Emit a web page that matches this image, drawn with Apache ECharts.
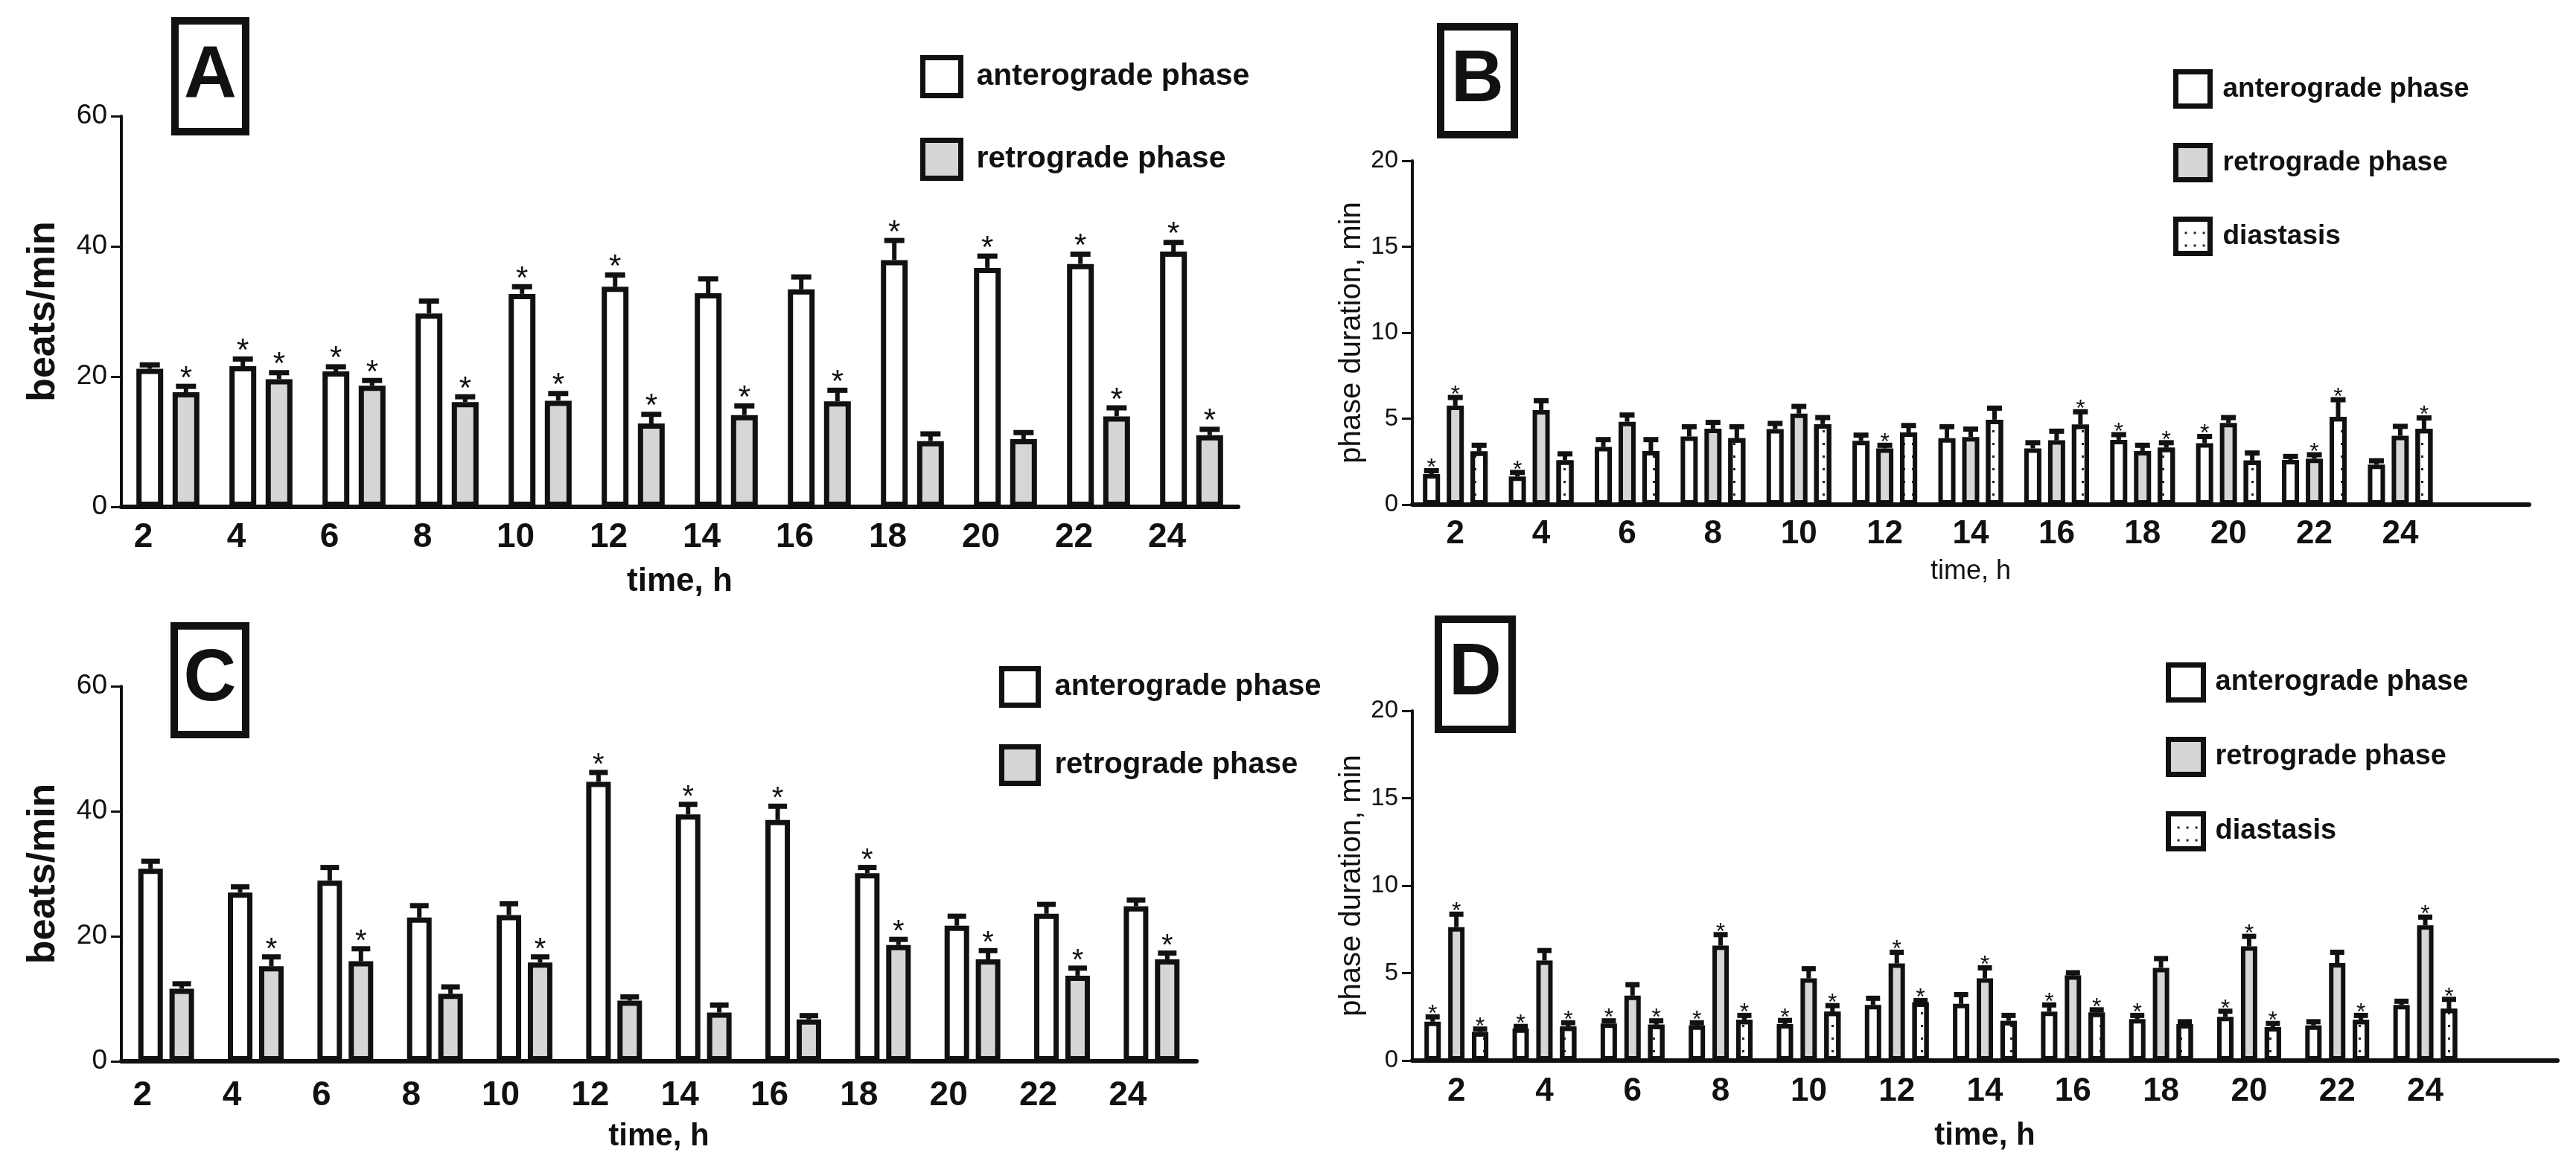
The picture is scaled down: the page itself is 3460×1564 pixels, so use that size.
<!DOCTYPE html>
<html>
<head>
<meta charset="utf-8">
<script src="https://cdn.jsdelivr.net/npm/echarts@6/dist/echarts.min.js"></script>
<style>
html, body { margin: 0; padding: 0; background: #fff; }
#chart { width: 3460px; height: 1564px; }
</style>
</head>
<body>
<div id="chart"></div>
<script>
var hours = ['2', '4', '6', '8', '10', '12', '14', '16', '18', '20', '22', '24'];
var seriesNames = ['anterograde phase', 'retrograde phase', 'diastasis'];

// panel A - beats/min
var antA = [21.2, 21.6, 20.8, 29.7, 32.7, 33.8, 32.8, 33.4, 37.9, 36.7, 37.3, 39.2];
var antAErr = [0.6, 1.1, 0.7, 1.9, 1.1, 1.8, 2.2, 1.9, 3.0, 1.8, 1.5, 1.4];
var antAStar = [0, 1, 1, 0, 1, 1, 0, 0, 1, 1, 1, 1];
var retA = [17.6, 19.6, 18.6, 16.1, 16.3, 12.8, 14.1, 16.2, 10.1, 10.4, 13.9, 11.0];
var retAErr = [0.9, 1.0, 0.8, 0.8, 1.1, 1.4, 1.4, 1.7, 1.1, 1.0, 1.3, 0.9];
var retAStar = [1, 1, 1, 1, 1, 1, 1, 1, 0, 0, 1, 1];

// panel B - phase duration, min
var antB = [1.77, 1.63, 3.35, 3.96, 4.39, 3.71, 3.86, 3.27, 3.77, 3.57, 2.6, 2.33];
var antBErr = [0.2, 0.24, 0.43, 0.57, 0.33, 0.33, 0.67, 0.33, 0.3, 0.39, 0.2, 0.22];
var antBStar = [1, 1, 0, 0, 0, 0, 0, 0, 1, 1, 0, 0];
var retB = [5.76, 5.5, 4.82, 4.42, 5.29, 3.27, 3.93, 3.74, 3.12, 4.75, 2.67, 4.0];
var retBErr = [0.47, 0.54, 0.39, 0.36, 0.42, 0.18, 0.46, 0.53, 0.33, 0.31, 0.23, 0.55];
var retBStar = [1, 0, 0, 0, 0, 1, 0, 0, 0, 0, 1, 0];
var diaB = [3.09, 2.58, 3.12, 3.86, 4.68, 4.2, 4.94, 4.65, 3.31, 2.56, 5.1, 4.4];
var diaBErr = [0.36, 0.37, 0.66, 0.67, 0.38, 0.4, 0.67, 0.75, 0.29, 0.44, 1.0, 0.64];
var diaBStar = [0, 0, 0, 0, 0, 0, 0, 1, 1, 0, 1, 1];

// panel C - beats/min
var antC = [30.8, 27.0, 28.9, 23.0, 23.4, 44.7, 39.5, 38.6, 30.1, 21.7, 23.6, 24.8];
var antCErr = [1.2, 0.9, 2.1, 1.9, 1.8, 1.5, 1.6, 2.2, 0.9, 1.5, 1.5, 1.0];
var antCStar = [0, 0, 0, 0, 0, 1, 1, 1, 1, 0, 0, 0];
var retC = [11.6, 15.2, 16.0, 10.8, 15.8, 9.7, 7.8, 6.7, 18.6, 16.3, 13.7, 16.3];
var retCErr = [0.8, 1.5, 2.0, 1.1, 0.9, 0.6, 1.2, 0.6, 0.9, 1.4, 1.2, 1.0];
var retCStar = [0, 1, 1, 0, 1, 0, 0, 0, 1, 1, 1, 1];

// panel D - phase duration, min
var antD = [2.22, 1.84, 2.12, 2.01, 2.08, 3.18, 3.24, 2.8, 2.37, 2.5, 2.01, 3.18];
var antDErr = [0.28, 0.11, 0.15, 0.15, 0.21, 0.38, 0.53, 0.38, 0.21, 0.32, 0.21, 0.21];
var antDStar = [1, 1, 1, 1, 1, 0, 0, 1, 1, 1, 0, 0];
var retD = [7.63, 5.72, 3.71, 6.57, 4.7, 5.55, 4.7, 4.87, 5.3, 6.53, 5.57, 7.73];
var retDErr = [0.74, 0.57, 0.63, 0.63, 0.55, 0.64, 0.6, 0.15, 0.53, 0.57, 0.62, 0.47];
var retDStar = [1, 0, 0, 1, 0, 1, 1, 0, 0, 1, 0, 1];
var diaD = [1.63, 1.95, 2.05, 2.33, 2.8, 3.33, 2.27, 2.75, 2.08, 1.91, 2.33, 2.97];
var diaDErr = [0.17, 0.21, 0.22, 0.25, 0.34, 0.1, 0.31, 0.15, 0.14, 0.21, 0.25, 0.53];
var diaDStar = [1, 1, 1, 1, 1, 1, 0, 1, 0, 1, 1, 1];

var INK = '#111';
var GRAY = '#d6d6d6';
var FONT = "'Liberation Sans', Arial, sans-serif";
var dots = {
    symbol: 'rect', symbolSize: 1, color: '#222', backgroundColor: null,
    dashArrayX: [3, 9], dashArrayY: [3, 14], rotation: 0
};

// per-panel geometry of the bar groups
var panels = [
    {barW: 36, gap: 35, border: 7, cap: 27, star: 42, starDy: 11},
    {barW: 23, gap: 39, border: 6, cap: 20, star: 32, starDy: 13},
    {barW: 33, gap: 27, border: 7, cap: 25, star: 40, starDy: 11},
    {barW: 22, gap: 45, border: 6, cap: 19, star: 32, starDy: 13}
];

function barSeries(gi, idx, values, fill, decal) {
    var p = panels[gi];
    var s = {
        name: seriesNames[idx], type: 'bar', xAxisIndex: gi, yAxisIndex: gi,
        data: values, barWidth: p.barW, barGap: p.gap + '%', silent: true, z: 2,
        itemStyle: {color: fill, borderColor: INK, borderWidth: p.border}
    };
    if (decal) s.itemStyle.decal = decal;
    return s;
}

function errSeries(gi, idx, n, values, errs, stars) {
    var p = panels[gi];
    return {
        type: 'custom', xAxisIndex: gi, yAxisIndex: gi, silent: true, z: 5,
        data: values.map(function (v, i) { return [i, v, errs[i], stars[i]]; }),
        encode: {x: 0, y: 1},
        renderItem: function (params, api) {
            var ci = api.value(0), m = api.value(1), e = api.value(2), s = api.value(3);
            var base = api.coord([ci, m]);
            var top = api.coord([ci, m + e]);
            var x = base[0] + (idx - (n - 1) / 2) * p.barW * (1 + p.gap / 100);
            var kids = [
                {type: 'line', shape: {x1: x, y1: base[1], x2: x, y2: top[1]}, style: {stroke: INK, lineWidth: 6}},
                {type: 'line', shape: {x1: x - p.cap / 2, y1: top[1], x2: x + p.cap / 2, y2: top[1]}, style: {stroke: INK, lineWidth: 7}}
            ];
            if (s) {
                kids.push({type: 'text', x: x, y: top[1] + p.starDy, style: {
                    text: '*', fill: INK, fontSize: p.star, fontFamily: FONT,
                    align: 'center', verticalAlign: 'bottom', textAlign: 'center', textVerticalAlign: 'bottom'
                }});
            }
            return {type: 'group', children: kids};
        }
    };
}

function xAxisOf(gi, cats, lblSize, lblPad, margin, nameSize, nameWeight, nameGap) {
    return {
        type: 'category', gridIndex: gi, data: cats,
        axisLine: {lineStyle: {color: INK, width: 6}},
        axisTick: {show: false},
        axisLabel: {color: INK, fontSize: lblSize, fontWeight: 'bold', fontFamily: FONT, margin: margin, padding: [0, lblPad, 0, 0], interval: 0},
        name: 'time, h', nameLocation: 'middle', nameGap: nameGap,
        nameTextStyle: {color: INK, fontSize: nameSize, fontWeight: nameWeight, fontFamily: FONT}
    };
}

function yAxisOf(gi, max, step, name, lblSize, nameSize, nameWeight, nameGap) {
    return {
        type: 'value', gridIndex: gi, min: 0, max: max, interval: step,
        axisLine: {show: true, lineStyle: {color: INK, width: 4}},
        axisTick: {show: true, length: 14, lineStyle: {color: INK, width: 3}},
        axisLabel: {color: INK, fontSize: lblSize, fontFamily: FONT, margin: 19},
        splitLine: {show: false},
        name: name, nameLocation: 'middle', nameGap: nameGap,
        nameTextStyle: {color: INK, fontSize: nameSize, fontWeight: nameWeight, fontFamily: FONT}
    };
}

function legendOf(left, top, size, gap, fontSize, textPad, names) {
    return {
        orient: 'vertical', left: left, top: top, padding: 0, icon: 'rect',
        itemWidth: size, itemHeight: size, itemGap: gap, selectedMode: false,
        itemStyle: {borderColor: INK, borderWidth: 7},
        textStyle: {color: INK, fontSize: fontSize, fontWeight: 'bold', fontFamily: FONT, padding: [0, 0, 0, textPad]},
        data: names
    };
}

function panelLabel(x, y, w, h, letter) {
    return [
        {type: 'rect', shape: {x: x, y: y, width: w, height: h}, style: {fill: '#fff', stroke: INK, lineWidth: 10}, z: 10},
        {type: 'text', x: x + w / 2, y: y + h / 2, z: 11, style: {
            text: letter, fill: INK, fontSize: 98, fontWeight: 'bold', fontFamily: FONT,
            align: 'center', verticalAlign: 'middle', textAlign: 'center', textVerticalAlign: 'middle'
        }}
    ];
}

var wideHours = hours.concat(['']);

var option = {
    animation: false,
    backgroundColor: '#fff',
    grid: [
        {left: 163, top: 156, width: 1500, height: 525, containLabel: false, outerBoundsMode: 'none'},
        {left: 1897, top: 216, width: 1500, height: 462, containLabel: false, outerBoundsMode: 'none'},
        {left: 163, top: 922, width: 1444, height: 504, containLabel: false, outerBoundsMode: 'none'},
        {left: 1897, top: 955, width: 1538, height: 470, containLabel: false, outerBoundsMode: 'none'}
    ],
    xAxis: [
        xAxisOf(0, hours, 46, 66, 18, 44, 'bold', 79),
        xAxisOf(1, wideHours, 44, 0, 18, 36, 'normal', 72),
        xAxisOf(2, hours, 46, 64, 23, 42, 'bold', 80),
        xAxisOf(3, wideHours, 44, 0, 20, 42, 'bold', 80)
    ],
    yAxis: [
        yAxisOf(0, 60, 20, 'beats/min', 37, 52, 'bold', 78),
        yAxisOf(1, 20, 5, 'phase duration, min', 33, 40, 'normal', 61),
        yAxisOf(2, 60, 20, 'beats/min', 37, 52, 'bold', 78),
        yAxisOf(3, 20, 5, 'phase duration, min', 33, 40, 'normal', 61)
    ],
    legend: [
        legendOf(1236, 74, 51, 53, 41, 16, seriesNames.slice(0, 2)),
        legendOf(2919, 93, 46, 46, 37, 12, seriesNames),
        legendOf(1342, 895, 49, 49, 40, 17, seriesNames.slice(0, 2)),
        legendOf(2909, 890, 47, 46, 38, 11, seriesNames)
    ],
    graphic: [].concat(
        panelLabel(235, 28, 95, 149, 'A'),
        panelLabel(1935, 36, 99, 145, 'B'),
        panelLabel(234, 841, 96, 146, 'C'),
        panelLabel(1932, 832, 99, 148, 'D')
    ),
    series: [
        barSeries(0, 0, antA, '#fff'),
        barSeries(0, 1, retA, GRAY),
        errSeries(0, 0, 2, antA, antAErr, antAStar),
        errSeries(0, 1, 2, retA, retAErr, retAStar),

        barSeries(1, 0, antB, '#fff'),
        barSeries(1, 1, retB, GRAY),
        barSeries(1, 2, diaB, '#fff', dots),
        errSeries(1, 0, 3, antB, antBErr, antBStar),
        errSeries(1, 1, 3, retB, retBErr, retBStar),
        errSeries(1, 2, 3, diaB, diaBErr, diaBStar),

        barSeries(2, 0, antC, '#fff'),
        barSeries(2, 1, retC, GRAY),
        errSeries(2, 0, 2, antC, antCErr, antCStar),
        errSeries(2, 1, 2, retC, retCErr, retCStar),

        barSeries(3, 0, antD, '#fff'),
        barSeries(3, 1, retD, GRAY),
        barSeries(3, 2, diaD, '#fff', dots),
        errSeries(3, 0, 3, antD, antDErr, antDStar),
        errSeries(3, 1, 3, retD, retDErr, retDStar),
        errSeries(3, 2, 3, diaD, diaDErr, diaDStar)
    ]
};

var myChart = echarts.init(document.getElementById('chart'));
myChart.setOption(option);
</script>
</body>
</html>
